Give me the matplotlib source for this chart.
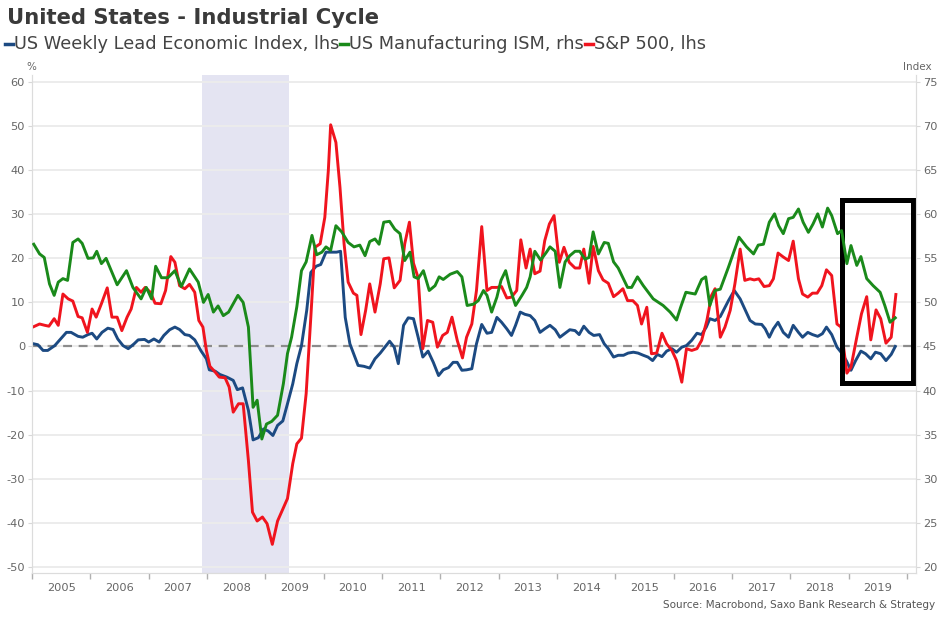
import matplotlib
matplotlib.use("Agg")
import matplotlib.pyplot as plt
from matplotlib.lines import Line2D
from matplotlib.patches import Rectangle

plt.rcParams.update({"font.family": "DejaVu Sans", "axes.unicode_minus": False})

# US Weekly Lead Economic Index (lhs, %)
lead_t = [2005.03, 2005.10, 2005.19, 2005.27, 2005.39, 2005.47, 2005.59, 2005.67, 2005.79, 2005.87,
          2005.96, 2006.03, 2006.11, 2006.20, 2006.30, 2006.39, 2006.47, 2006.56, 2006.65, 2006.75,
          2006.82, 2006.93, 2007.00, 2007.09, 2007.18, 2007.26, 2007.36, 2007.45, 2007.53, 2007.62,
          2007.70, 2007.79, 2007.90, 2007.99, 2008.04, 2008.14, 2008.22, 2008.34, 2008.45, 2008.52,
          2008.61, 2008.71, 2008.79, 2008.88, 2008.97, 2009.05, 2009.13, 2009.21, 2009.30, 2009.38,
          2009.47, 2009.54, 2009.62, 2009.71, 2009.78, 2009.87, 2009.95, 2010.04, 2010.14, 2010.22,
          2010.29, 2010.37, 2010.45, 2010.59, 2010.69, 2010.79, 2010.88, 2010.97, 2011.05, 2011.13,
          2011.21, 2011.28, 2011.37, 2011.45, 2011.54, 2011.62, 2011.70, 2011.79, 2011.88, 2011.97,
          2012.05, 2012.14, 2012.22, 2012.29, 2012.37, 2012.45, 2012.54, 2012.62, 2012.71, 2012.80,
          2012.88, 2012.97, 2013.05, 2013.14, 2013.22, 2013.29, 2013.37, 2013.45, 2013.54, 2013.62,
          2013.71, 2013.79, 2013.88, 2013.97, 2014.05, 2014.14, 2014.22, 2014.31, 2014.38, 2014.46,
          2014.55, 2014.63, 2014.73, 2014.81, 2014.88, 2014.97, 2015.05, 2015.14, 2015.22, 2015.31,
          2015.39, 2015.48, 2015.56, 2015.64, 2015.72, 2015.80, 2015.88, 2015.97, 2016.05, 2016.14,
          2016.22, 2016.31, 2016.40, 2016.48, 2016.56, 2016.62, 2016.71, 2016.80, 2016.94, 2017.04,
          2017.14, 2017.22, 2017.31, 2017.40, 2017.51, 2017.57, 2017.64, 2017.71, 2017.79, 2017.88,
          2017.97, 2018.05, 2018.14, 2018.21, 2018.30, 2018.38, 2018.47, 2018.55, 2018.62, 2018.71,
          2018.80, 2018.87, 2018.96, 2019.04, 2019.12, 2019.21, 2019.29, 2019.38, 2019.46, 2019.55,
          2019.64, 2019.73, 2019.80]
lead_v = [0.6, 0.4, -0.9, -0.9, 0.2, 1.4, 3.2, 3.2, 2.3, 2.1,
          2.7, 3.0, 1.7, 3.2, 4.15, 3.85, 1.7, 0.2, -0.5, 0.6,
          1.5, 1.6, 1.0, 1.7, 1.0, 2.5, 3.8, 4.4, 3.85, 2.7,
          2.5, 1.5, -1.05, -2.8, -5.3, -5.6, -6.35, -6.95, -7.7, -9.8,
          -9.4, -14.5, -21.2, -20.7, -18.7, -19.2, -20.2, -17.9, -16.9, -13.0,
          -8.5, -3.9, 0.2, 8.2, 16.8, 18.2, 18.6, 21.4, 21.4, 21.4,
          21.6, 6.6, 0.6, -4.3, -4.5, -4.9, -2.8, -1.5, -0.15, 1.2,
          -0.15, -3.9, 4.8, 6.5, 6.3, 2.1, -2.4, -1.05, -3.6, -6.6,
          -5.3, -4.8, -3.6, -3.6, -5.4, -5.3, -5.05, 0.6, 5.0, 3.0,
          3.2, 6.6, 5.5, 4.0, 2.5, 4.8, 7.8, 7.3, 7.0, 5.9,
          3.2, 4.0, 4.8, 3.8, 2.1, 3.0, 3.8, 3.6, 2.7, 4.6,
          3.2, 2.5, 2.7, 0.6, -0.5, -2.4, -2.0, -2.0, -1.5, -1.3,
          -1.5, -2.0, -2.4, -3.2, -1.8, -2.3, -1.05, -0.5, -1.3, -0.15,
          0.2, 1.4, 3.0, 2.7, 4.4, 6.3, 5.9, 6.8, 10.4, 12.7,
          10.8, 8.5, 5.9, 5.1, 5.0, 4.0, 2.1, 4.0, 5.5, 3.2,
          2.1, 4.8, 3.2, 2.1, 3.2, 2.7, 2.3, 2.9, 4.4, 2.7,
          -0.15, -1.3, -3.2, -5.4, -3.2, -1.05, -1.65, -2.8, -1.3, -1.65,
          -3.2, -1.8, 0.0]

# US Manufacturing ISM (rhs, index)
ism_t = [2005.03, 2005.13, 2005.21, 2005.30, 2005.38, 2005.45, 2005.53, 2005.61, 2005.70, 2005.79,
         2005.86, 2005.96, 2006.05, 2006.11, 2006.19, 2006.27, 2006.46, 2006.62, 2006.73, 2006.87,
         2006.96, 2007.05, 2007.12, 2007.22, 2007.33, 2007.45, 2007.56, 2007.70, 2007.85, 2007.94,
         2008.02, 2008.11, 2008.19, 2008.28, 2008.37, 2008.53, 2008.62, 2008.71, 2008.79, 2008.86,
         2008.94, 2009.02, 2009.11, 2009.21, 2009.31, 2009.38, 2009.45, 2009.54, 2009.62, 2009.70,
         2009.80, 2009.88, 2009.97, 2010.04, 2010.12, 2010.21, 2010.31, 2010.42, 2010.52, 2010.62,
         2010.71, 2010.79, 2010.88, 2010.95, 2011.03, 2011.13, 2011.22, 2011.31, 2011.39, 2011.48,
         2011.55, 2011.62, 2011.71, 2011.81, 2011.91, 2011.98, 2012.05, 2012.17, 2012.29, 2012.37,
         2012.46, 2012.57, 2012.65, 2012.74, 2012.80, 2012.88, 2012.97, 2013.04, 2013.12, 2013.19,
         2013.29, 2013.40, 2013.48, 2013.54, 2013.62, 2013.72, 2013.82, 2013.88, 2013.97, 2014.05,
         2014.14, 2014.22, 2014.31, 2014.39, 2014.48, 2014.55, 2014.62, 2014.71, 2014.81, 2014.88,
         2014.97, 2015.05, 2015.21, 2015.28, 2015.38, 2015.48, 2015.65, 2015.82, 2015.94, 2016.05,
         2016.12, 2016.21, 2016.37, 2016.48, 2016.55, 2016.62, 2016.71, 2016.80, 2016.94, 2017.12,
         2017.25, 2017.37, 2017.45, 2017.54, 2017.64, 2017.73, 2017.80, 2017.88, 2017.97, 2018.05,
         2018.14, 2018.22, 2018.31, 2018.39, 2018.47, 2018.55, 2018.64, 2018.71, 2018.81, 2018.88,
         2018.97, 2019.04, 2019.14, 2019.21, 2019.31, 2019.42, 2019.54, 2019.62, 2019.71, 2019.80]
ism_v = [56.6, 55.5, 55.1, 52.1, 50.8, 52.3, 52.7, 52.5, 56.8, 57.2,
         56.7, 55.0, 55.05, 55.8, 54.4, 55.0, 52.0, 53.6, 51.7, 50.4,
         51.7, 50.4, 54.1, 52.8, 52.8, 53.6, 51.8, 53.8, 52.3, 50.0,
         50.9, 48.9, 49.6, 48.5, 48.9, 50.8, 50.0, 47.2, 38.1, 38.9,
         34.5, 36.2, 36.5, 37.2, 40.8, 44.2, 46.05, 49.5, 53.6, 54.6,
         57.6, 55.4, 55.7, 56.3, 55.9, 58.7, 58.0, 56.8, 56.3, 56.5,
         55.3, 56.9, 57.2, 56.6, 59.1, 59.2, 58.3, 57.8, 54.75, 55.7,
         52.9, 52.7, 53.6, 51.35, 51.9, 52.9, 52.6, 53.2, 53.5, 52.9,
         49.65, 49.8, 50.2, 51.35, 50.8, 48.9, 50.6, 52.5, 53.6, 51.7,
         49.65, 50.8, 51.7, 52.9, 55.8, 54.8, 55.7, 56.3, 55.8, 51.7,
         54.6, 55.3, 55.8, 55.8, 54.9, 55.1, 58.0, 55.5, 56.8, 56.7,
         54.6, 53.9, 51.7, 51.7, 52.9, 51.9, 50.4, 49.65, 48.9, 48.0,
         49.45, 51.15, 50.95, 52.6, 52.9, 49.65, 51.35, 51.5, 54.0, 57.4,
         56.3, 55.5, 56.5, 56.6, 59.1, 60.05, 58.7, 57.8, 59.5, 59.65,
         60.6, 59.1, 57.95, 58.9, 60.05, 58.55, 60.7, 59.85, 57.8, 58.15,
         54.4, 56.45, 54.2, 55.2, 52.7, 51.9, 51.15, 49.65, 47.75, 48.25]

# S&P 500 (lhs, % y/y)
spx_t = [2005.03, 2005.13, 2005.22, 2005.29, 2005.38, 2005.45, 2005.53, 2005.62, 2005.70, 2005.79,
         2005.86, 2005.95, 2006.03, 2006.10, 2006.19, 2006.29, 2006.37, 2006.46, 2006.54, 2006.63,
         2006.70, 2006.79, 2006.87, 2006.94, 2007.03, 2007.11, 2007.21, 2007.29, 2007.38, 2007.45,
         2007.53, 2007.62, 2007.70, 2007.79, 2007.86, 2007.93, 2007.99, 2008.05, 2008.14, 2008.21,
         2008.31, 2008.38, 2008.45, 2008.54, 2008.62, 2008.71, 2008.78, 2008.86, 2008.95, 2009.03,
         2009.12, 2009.21, 2009.29, 2009.38, 2009.47, 2009.54, 2009.62, 2009.70, 2009.78, 2009.85,
         2009.94, 2010.02, 2010.08, 2010.12, 2010.21, 2010.28, 2010.35, 2010.42, 2010.51, 2010.57,
         2010.64, 2010.72, 2010.79, 2010.88, 2010.97, 2011.03, 2011.12, 2011.21, 2011.31, 2011.39,
         2011.47, 2011.54, 2011.62, 2011.70, 2011.78, 2011.87, 2011.95, 2012.04, 2012.12, 2012.20,
         2012.29, 2012.38, 2012.45, 2012.54, 2012.62, 2012.71, 2012.80, 2012.88, 2012.97, 2013.05,
         2013.14, 2013.22, 2013.31, 2013.38, 2013.47, 2013.54, 2013.62, 2013.71, 2013.79, 2013.87,
         2013.95, 2014.04, 2014.12, 2014.21, 2014.31, 2014.39, 2014.46, 2014.55, 2014.62, 2014.71,
         2014.79, 2014.88, 2014.97, 2015.05, 2015.13, 2015.21, 2015.30, 2015.38, 2015.45, 2015.54,
         2015.62, 2015.71, 2015.80, 2015.88, 2015.97, 2016.05, 2016.14, 2016.22, 2016.31, 2016.40,
         2016.48, 2016.57, 2016.65, 2016.71, 2016.80, 2016.88, 2016.97, 2017.05, 2017.14, 2017.22,
         2017.31, 2017.38, 2017.46, 2017.55, 2017.64, 2017.71, 2017.79, 2017.88, 2017.97, 2018.05,
         2018.14, 2018.21, 2018.30, 2018.38, 2018.46, 2018.54, 2018.62, 2018.71, 2018.80, 2018.87,
         2018.97, 2019.04, 2019.14, 2019.22, 2019.31, 2019.38, 2019.47, 2019.55, 2019.64, 2019.73,
         2019.81]
spx_v = [4.5, 5.1, 4.8, 4.6, 6.3, 4.8, 11.9, 10.8, 10.3, 6.8,
         6.5, 3.2, 8.5, 6.65, 9.7, 13.3, 6.65, 6.65, 3.6, 6.65,
         8.5, 13.4, 12.3, 13.4, 12.3, 9.8, 9.7, 12.7, 20.4, 19.1,
         13.8, 13.1, 14.1, 12.3, 5.9, 4.4, -0.9, -4.5, -5.8, -6.95,
         -7.1, -9.2, -14.9, -13.0, -13.0, -25.9, -37.6, -39.6, -38.7, -40.2,
         -44.9, -39.6, -37.2, -34.5, -26.6, -22.1, -20.8, -10.7, 6.65, 22.5,
         23.3, 29.3, 39.9, 50.3, 46.3, 36.1, 23.3, 14.6, 12.1, 11.6,
         2.7, 8.2, 14.2, 7.8, 14.2, 19.9, 20.1, 13.3, 15.0, 23.3,
         28.2, 18.9, 15.6, -0.5, 5.9, 5.5, -0.15, 2.5, 3.2, 6.65,
         1.4, -2.6, 2.1, 5.1, 12.7, 27.2, 12.7, 13.4, 13.4, 13.6,
         11.0, 11.2, 12.7, 24.2, 17.8, 22.1, 16.5, 17.1, 24.0, 27.8,
         29.7, 19.1, 22.5, 19.1, 17.8, 17.8, 22.1, 14.35, 22.7, 17.2,
         15.1, 14.35, 11.3, 12.1, 13.1, 10.4, 10.4, 9.3, 5.1, 8.9,
         -1.65, -1.5, 3.0, 0.6, -0.9, -3.2, -8.1, -0.5, -0.9, -0.5,
         1.4, 5.9, 11.6, 13.1, 2.1, 4.4, 8.2, 14.2, 22.1, 15.0,
         15.35, 15.1, 15.35, 13.6, 13.8, 15.35, 21.2, 20.3, 19.5, 23.9,
         15.35, 11.9, 11.2, 12.1, 12.1, 13.8, 17.4, 16.1, 5.1, 4.4,
         -6.05, -4.7, 2.1, 7.4, 11.3, 1.5, 8.3, 6.3, 0.75, 2.1,
         11.8]

recession = (2007.91, 2009.41)
box_x = (2018.89, 2020.10)
box_y = (-8.2, 33.2)
years = list(range(2005, 2020))

BLUE = "#1c4a82"
GREEN = "#1a8a1a"
RED = "#f0141e"
GREY = "#666666"

fig = plt.figure(figsize=(9.43, 6.18), dpi=100)
ax = fig.add_axes([32/943, 45/618, 884/943, 498/618])
ax2 = ax.twinx()

ax.set_xlim(2005.0, 2020.155)
ax.set_ylim(-51.4, 61.6)
ax2.set_ylim(45 - 51.4/2, 45 + 61.6/2)

ax.axvspan(recession[0], recession[1], color="#e4e4f2", lw=0, zorder=0)
ax.set_yticks(range(-50, 61, 10))
ax2.set_yticks(range(20, 76, 5))
ax.grid(axis="y", color="#ececec", lw=1.4, zorder=0.5)
ax.set_axisbelow(True)
ax.axhline(0, color="#8c8c8c", lw=1.6, ls=(0, (4, 3)), zorder=1)

ax.plot(lead_t, lead_v, color=BLUE, lw=2.1, zorder=3)
ax.plot(spx_t, spx_v, color=RED, lw=2.1, zorder=4)
ax2.plot(ism_t, ism_v, color=GREEN, lw=2.1, zorder=3)

ax.add_patch(Rectangle((box_x[0], box_y[0]), box_x[1]-box_x[0], box_y[1]-box_y[0],
                       fill=False, ec="black", lw=3.6, zorder=6, clip_on=False))

# x axis: ticks at year starts, labels centred in each year
ax.set_xticks(range(2005, 2021))
ax.set_xticklabels([])
ax.set_xticks([y + 0.5 for y in years], minor=True)
ax.set_xticklabels([str(y) for y in years], minor=True)
ax.tick_params(axis="x", which="major", length=4, width=1, color="#b0b0b0", direction="out")
ax.tick_params(axis="x", which="minor", length=0, pad=7, labelsize=8.2, labelcolor=GREY)
ax.tick_params(axis="y", length=3, color="#d8d8d8", pad=2, labelsize=8.2, labelcolor=GREY)
ax2.tick_params(axis="y", length=3, color="#d8d8d8", pad=2, labelsize=8.2, labelcolor=GREY)

for a in (ax, ax2):
    for s in a.spines.values():
        s.set_color("#dcdcdc")
    a.spines["top"].set_visible(False)

fig.text(31/943, 1 - 67/618, "%", fontsize=7.5, color=GREY, ha="center", va="center")
fig.text(917/943, 1 - 67/618, "Index", fontsize=7.5, color=GREY, ha="center", va="center")

fig.text(7/943, 1 - 18/618, "United States - Industrial Cycle", fontsize=15.2,
         fontweight="bold", color="#3a3a3a", va="center")

# legend line built from pieces
renderer = fig.canvas.get_renderer()
items = [(BLUE, "US Weekly Lead Economic Index, lhs"),
         (GREEN, "US Manufacturing ISM, rhs"),
         (RED, "S&P 500, lhs")]
lx = 5
ly = 1 - 44/618
for col, lab in items:
    fig.add_artist(Line2D([lx/943, (lx + 8)/943], [ly, ly], color=col, lw=2.5,
                          transform=fig.transFigure))
    t = fig.text((lx + 9)/943, ly, lab, fontsize=12.8, color="#444444", va="center")
    bb = t.get_window_extent(renderer)
    lx = bb.x1 + 1

fig.text(935/943, 1 - 605/618, "Source: Macrobond, Saxo Bank Research & Strategy",
         fontsize=7.5, color="#555555", ha="right", va="center")

fig.savefig("out.png", dpi=100)
